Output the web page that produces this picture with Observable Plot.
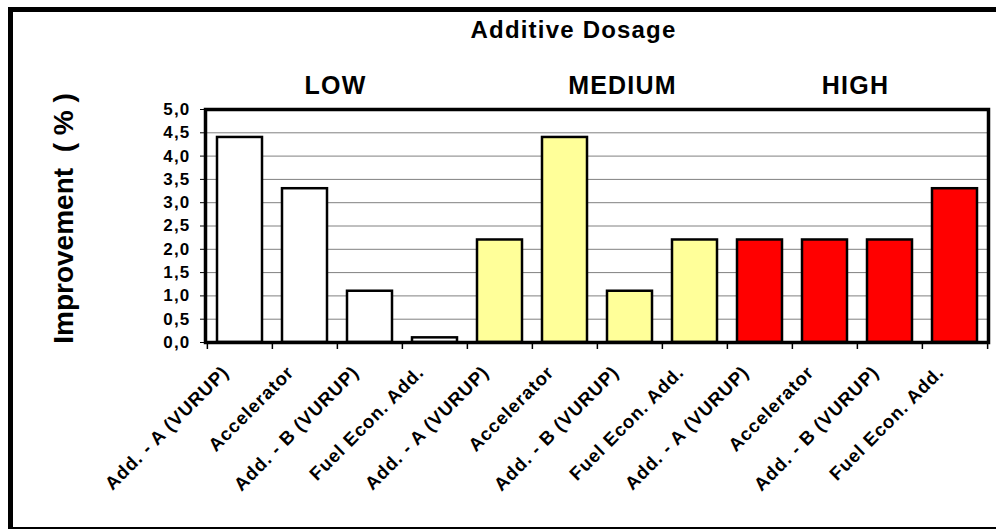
<!DOCTYPE html>
<html>
<head>
<meta charset="utf-8">
<script src="https://cdn.jsdelivr.net/npm/d3@7"></script>
<script src="https://cdn.jsdelivr.net/npm/@observablehq/plot@0.6"></script>
<style>
  html, body { margin: 0; padding: 0; background: white; overflow: hidden; }
  #wrap { position: relative; width: 996px; height: 529px; overflow: hidden; }
  #border { position: absolute; left: 8px; top: 7px; width: 1000px; height: 515px; border: 5px solid black; box-sizing: content-box; pointer-events: none; }
</style>
</head>
<body>
<div id="wrap"><div id="border"></div></div>
<script>
const labels = [
  "Add. - A (VURUP)", "Accelerator", "Add. - B (VURUP)", "Fuel Econ. Add.",
  "Add. - A (VURUP)", "Accelerator", "Add. - B (VURUP)", "Fuel Econ. Add.",
  "Add. - A (VURUP)", "Accelerator", "Add. - B (VURUP)", "Fuel Econ. Add."
];
const dosage = ["LOW","LOW","LOW","LOW","MEDIUM","MEDIUM","MEDIUM","MEDIUM","HIGH","HIGH","HIGH","HIGH"];
const values = [4.4, 3.3, 1.1, 0.1, 2.2, 4.4, 1.1, 2.2, 2.2, 2.2, 2.2, 3.3];
const groups = ["LOW", "MEDIUM", "HIGH"];
const groupColors = ["#ffffff", "#ffff99", "#ff0000"];
const yTicks = [0, 0.5, 1, 1.5, 2, 2.5, 3, 3.5, 4, 4.5, 5];
const title = "Additive Dosage";
const yTitle = "Improvement\u00a0\u00a0(\u00a0%\u00a0)";

const data = labels.map((label, i) => ({id: i, label, dosage: dosage[i], value: values[i]}));

const W = 996, H = 529;
const mL = 205, mR = 8, mT = 109, mB = 187;
const step = (W - mL - mR) / labels.length;
const bold = {fontWeight: "bold"};

const chart = Plot.plot({
  width: W,
  height: H,
  marginLeft: mL,
  marginRight: mR,
  marginTop: mT,
  marginBottom: mB,
  style: {fontFamily: "'Liberation Sans', Arial, sans-serif", background: "transparent"},
  x: {type: "band", domain: data.map(d => d.id), paddingInner: 0.31, paddingOuter: 0.155, axis: null},
  y: {domain: [0, 5], axis: null, label: null},
  color: {domain: groups, range: groupColors},
  marks: [
    Plot.gridY(yTicks.filter(t => t > 0 && t < 5), {stroke: "#808080", strokeOpacity: 1, strokeWidth: 1}),
    Plot.barY(data, {x: "id", y: "value", fill: "dosage", stroke: "black", strokeWidth: 2.5}),
    Plot.frame({stroke: "black", strokeWidth: 3.5}),
    Plot.axisY({ticks: yTicks, tickFormat: d => d.toFixed(1).replace(".", ","), tickSize: 5, tickPadding: 10, fontSize: 17, ...bold, anchor: "left", label: null}),
    Plot.ruleX(data, {x: "id", y1: 0, y2: -0.15, dx: -step / 2, stroke: "black", strokeWidth: 1.5}),
    Plot.ruleX(data.slice(-1), {x: "id", y1: 0, y2: -0.15, dx: step / 2, stroke: "black", strokeWidth: 1.5}),
    Plot.text(data, {x: "id", text: "label", frameAnchor: "bottom", dx: -10, dy: 31, rotate: -45, textAnchor: "end", lineAnchor: "bottom", fontSize: 18.5, ...bold, fill: "black", ariaDescription: "xlabels"}),
    Plot.text([title], {frameAnchor: "top-left", dx: 573 - mL, dy: 37 - mT, textAnchor: "middle", lineAnchor: "bottom", fontSize: 24, ...bold, ariaDescription: "title"}),
    Plot.text([groups[0]], {frameAnchor: "top-left", dx: 335 - mL, dy: 93 - mT, textAnchor: "middle", lineAnchor: "bottom", fontSize: 25, ...bold, ariaDescription: "groups"}),
    Plot.text([groups[1]], {frameAnchor: "top-left", dx: 622 - mL, dy: 93 - mT, textAnchor: "middle", lineAnchor: "bottom", fontSize: 25, ...bold, ariaDescription: "groups"}),
    Plot.text([groups[2]], {frameAnchor: "top-left", dx: 855 - mL, dy: 93 - mT, textAnchor: "middle", lineAnchor: "bottom", fontSize: 25, ...bold, ariaDescription: "groups"}),
    Plot.text([yTitle], {frameAnchor: "left", dx: 64 - mL, dy: 218 - (mT + (H - mT - mB) / 2), rotate: -90, textAnchor: "middle", lineAnchor: "middle", fontSize: 28, ...bold, ariaDescription: "ytitle"})
  ]
});
chart.style.position = "absolute";
chart.style.left = "0px";
chart.style.top = "0px";
const svg = d3.select(chart);
svg.selectAll('g[aria-label="y-axis tick label"] text').style("letter-spacing", "1.2px");
svg.selectAll('g[aria-description="xlabels"] text').style("letter-spacing", "0.9px");
svg.selectAll('g[aria-description="title"] text').style("letter-spacing", "1.2px");
svg.selectAll('g[aria-description="groups"] text').style("letter-spacing", "1.2px");
document.getElementById("wrap").prepend(chart);
</script>
</body>
</html>
